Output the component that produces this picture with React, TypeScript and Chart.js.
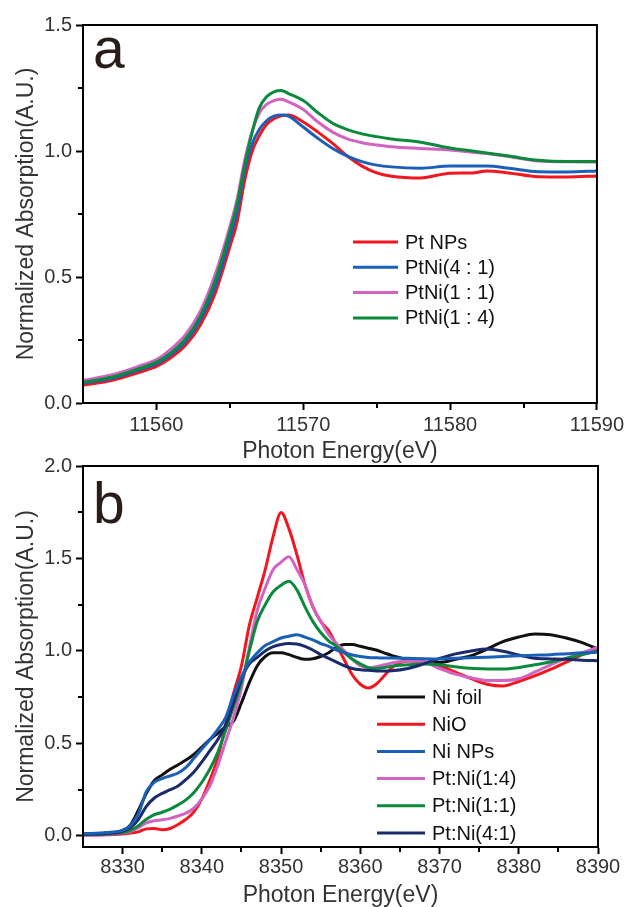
import React, { useEffect, useRef } from 'react';
import { Chart, registerables } from 'chart.js';

Chart.register(...registerables);

const FONT = "'Liberation Sans', Arial, Helvetica, sans-serif";

// ---------- Panel a (Pt L3 edge) ----------
const energyA = [11555, 11557, 11559, 11560, 11561, 11562, 11563, 11564, 11565, 11565.5, 11566, 11566.5, 11567, 11567.5, 11568, 11568.5, 11569, 11570, 11571, 11572, 11573, 11574, 11575, 11576, 11578, 11580, 11581.5, 11582.5, 11584, 11586, 11588, 11590];
const ptNPs = [0.070, 0.090, 0.125, 0.145, 0.180, 0.230, 0.310, 0.435, 0.620, 0.720, 0.880, 0.995, 1.060, 1.105, 1.128, 1.140, 1.143, 1.115, 1.075, 1.030, 0.980, 0.940, 0.913, 0.900, 0.893, 0.912, 0.913, 0.921, 0.913, 0.898, 0.897, 0.901];
const ptNi41 = [0.078, 0.098, 0.135, 0.155, 0.192, 0.245, 0.330, 0.460, 0.650, 0.760, 0.920, 1.025, 1.085, 1.120, 1.138, 1.143, 1.138, 1.095, 1.050, 1.010, 0.980, 0.958, 0.944, 0.937, 0.932, 0.940, 0.940, 0.940, 0.932, 0.918, 0.917, 0.921];
const ptNi11 = [0.090, 0.112, 0.150, 0.172, 0.215, 0.272, 0.365, 0.510, 0.700, 0.810, 0.960, 1.075, 1.150, 1.185, 1.200, 1.205, 1.195, 1.165, 1.115, 1.075, 1.048, 1.033, 1.024, 1.017, 1.010, 1.004, 0.995, 0.990, 0.978, 0.960, 0.957, 0.956];
const ptNi14 = [0.082, 0.103, 0.140, 0.162, 0.200, 0.255, 0.345, 0.485, 0.680, 0.790, 0.940, 1.070, 1.170, 1.215, 1.235, 1.240, 1.228, 1.200, 1.152, 1.110, 1.085, 1.068, 1.057, 1.048, 1.035, 1.012, 1.000, 0.992, 0.980, 0.963, 0.958, 0.958];
const labelsA = ['Pt NPs', 'PtNi(4 : 1)', 'PtNi(1 : 1)', 'PtNi(1 : 4)'];
const xTicksA = [11560, 11570, 11580, 11590];
const xMinorA = [11565, 11575, 11585];
const yTicksA = [0, 0.5, 1.0, 1.5];
const yMinorA = [0.25, 0.75, 1.25];

// ---------- Panel b (Ni K edge) ----------
const energyB = [8325, 8328, 8330, 8331, 8332, 8333, 8334, 8335, 8336, 8337, 8338, 8339, 8340, 8341, 8342, 8343, 8344, 8345, 8346, 8347, 8348, 8349, 8350, 8351, 8352, 8353, 8354, 8355, 8356, 8357, 8358, 8359, 8360, 8361, 8362, 8363, 8364, 8366, 8368, 8370, 8372, 8374, 8376, 8378, 8380, 8382, 8384, 8386, 8388, 8390];
const niFoil = [0.010, 0.015, 0.030, 0.060, 0.140, 0.230, 0.300, 0.330, 0.360, 0.385, 0.410, 0.440, 0.480, 0.520, 0.555, 0.590, 0.620, 0.720, 0.830, 0.920, 0.970, 0.990, 0.990, 0.980, 0.965, 0.955, 0.958, 0.970, 0.990, 1.020, 1.035, 1.035, 1.025, 1.015, 1.005, 0.990, 0.975, 0.955, 0.940, 0.938, 0.955, 0.975, 1.010, 1.050, 1.075, 1.092, 1.088, 1.070, 1.045, 1.010];
const niO = [0.005, 0.006, 0.010, 0.015, 0.022, 0.038, 0.040, 0.033, 0.040, 0.062, 0.090, 0.130, 0.200, 0.300, 0.420, 0.600, 0.770, 0.920, 1.140, 1.290, 1.440, 1.620, 1.748, 1.660, 1.520, 1.360, 1.240, 1.160, 1.110, 1.030, 0.950, 0.870, 0.820, 0.800, 0.820, 0.865, 0.910, 0.945, 0.940, 0.920, 0.885, 0.850, 0.820, 0.810, 0.835, 0.865, 0.900, 0.940, 0.980, 1.015];
const niNPs = [0.012, 0.018, 0.030, 0.055, 0.120, 0.240, 0.290, 0.310, 0.325, 0.340, 0.370, 0.420, 0.470, 0.520, 0.575, 0.640, 0.760, 0.860, 0.940, 0.990, 1.030, 1.050, 1.070, 1.080, 1.087, 1.075, 1.060, 1.040, 1.025, 1.005, 0.990, 0.978, 0.970, 0.965, 0.963, 0.962, 0.962, 0.960, 0.958, 0.957, 0.960, 0.963, 0.966, 0.970, 0.974, 0.977, 0.980, 0.985, 0.990, 0.993];
const ptNiB14 = [0.005, 0.008, 0.015, 0.025, 0.045, 0.070, 0.082, 0.087, 0.095, 0.108, 0.123, 0.150, 0.200, 0.270, 0.380, 0.510, 0.640, 0.800, 1.020, 1.220, 1.340, 1.440, 1.480, 1.510, 1.440, 1.360, 1.240, 1.160, 1.090, 1.040, 1.000, 0.955, 0.920, 0.910, 0.915, 0.925, 0.935, 0.945, 0.940, 0.905, 0.875, 0.855, 0.840, 0.840, 0.850, 0.885, 0.925, 0.960, 0.990, 1.020];
const ptNiB11 = [0.006, 0.010, 0.018, 0.030, 0.055, 0.090, 0.115, 0.128, 0.145, 0.168, 0.195, 0.235, 0.290, 0.360, 0.450, 0.570, 0.700, 0.830, 1.000, 1.160, 1.250, 1.320, 1.355, 1.377, 1.330, 1.240, 1.160, 1.100, 1.055, 1.025, 0.990, 0.955, 0.930, 0.910, 0.905, 0.910, 0.918, 0.925, 0.930, 0.925, 0.915, 0.906, 0.903, 0.902, 0.910, 0.925, 0.940, 0.960, 0.980, 1.000];
const ptNiB41 = [0.008, 0.013, 0.025, 0.045, 0.090, 0.160, 0.205, 0.230, 0.250, 0.270, 0.305, 0.345, 0.400, 0.460, 0.520, 0.600, 0.720, 0.850, 0.930, 0.965, 1.000, 1.023, 1.035, 1.040, 1.038, 1.025, 1.005, 0.980, 0.960, 0.940, 0.920, 0.905, 0.898, 0.895, 0.892, 0.892, 0.893, 0.905, 0.930, 0.960, 0.984, 1.000, 1.010, 0.998, 0.978, 0.960, 0.957, 0.955, 0.950, 0.947];
const labelsB = ['Ni foil', 'NiO', 'Ni NPs', 'Pt:Ni(1:4)', 'Pt:Ni(1:1)', 'Pt:Ni(4:1)'];
const xTicksB = [8330, 8340, 8350, 8360, 8370, 8380, 8390];
const xMinorB = [8335, 8345, 8355, 8365, 8375, 8385];
const yTicksB = [0, 0.5, 1.0, 1.5, 2.0];
const yMinorB = [0.25, 0.75, 1.25, 1.75];

const RED = '#f2161f';
const BLUE = '#1a5fb8';
const PINK = '#d263c0';
const GREEN = '#0b8a3d';
const BLACK = '#111111';
const NAVY = '#1b2a6a';

const decorPlugin = {
  id: 'panelDecor',
  afterDraw(chart: any, _args: any, opts: any) {
    const ctx = chart.ctx;
    const { left, top, right, bottom } = chart.chartArea;
    const xs = chart.scales.x;
    const ys = chart.scales.y;
    ctx.save();
    // frame
    ctx.strokeStyle = '#000';
    ctx.lineWidth = 2;
    ctx.strokeRect(left, top, right - left, bottom - top);
    // minor ticks
    ctx.beginPath();
    (opts.xMinor || []).forEach((v: number) => {
      const p = Math.round(xs.getPixelForValue(v));
      ctx.moveTo(p, bottom);
      ctx.lineTo(p, bottom + 5);
    });
    (opts.yMinor || []).forEach((v: number) => {
      const p = Math.round(ys.getPixelForValue(v));
      ctx.moveTo(left, p);
      ctx.lineTo(left - 5, p);
    });
    ctx.stroke();
    // panel letter
    ctx.fillStyle = '#2a1d17';
    ctx.font = `57px ${FONT}`;
    ctx.textBaseline = 'alphabetic';
    ctx.textAlign = 'left';
    ctx.fillText(opts.letter, opts.letterX, opts.letterY);
    // legend
    ctx.font = `20px ${FONT}`;
    ctx.textBaseline = 'middle';
    (opts.items || []).forEach((it: any, i: number) => {
      const y = opts.legY + i * opts.legGap;
      ctx.strokeStyle = it.color;
      ctx.lineWidth = 3;
      ctx.beginPath();
      ctx.moveTo(opts.lineX1, y);
      ctx.lineTo(opts.lineX2, y);
      ctx.stroke();
      ctx.fillStyle = '#111';
      ctx.fillText(it.label, opts.textX, y + 1);
    });
    ctx.restore();
  },
};

function makeSeries(xs: number[], ys: number[]) {
  return xs.map((x, i) => ({ x, y: ys[i] }));
}

function baseScales(p: any) {
  return {
    x: {
      type: 'linear',
      min: p.xMin,
      max: p.xMax,
      afterBuildTicks: (s: any) => {
        s.ticks = p.xTicks.map((v: number) => ({ value: v }));
      },
      afterFit: (s: any) => {
        s.height = p.xHeight;
      },
      ticks: {
        callback: (v: any) => String(v),
        font: { size: 20, family: FONT },
        color: '#333',
        padding: p.xTickPad,
        maxRotation: 0,
        autoSkip: false,
      },
      grid: { display: true, drawOnChartArea: false, drawTicks: true, tickLength: 7, tickWidth: 2, tickColor: '#000' },
      border: { display: true, color: '#000', width: 2 },
      title: {
        display: true,
        text: 'Photon Energy(eV)',
        font: { size: 23, family: FONT, lineHeight: 1 },
        color: '#333',
        padding: { top: 0, bottom: p.xTitlePad },
      },
    },
    y: {
      type: 'linear',
      min: p.yMin,
      max: p.yMax,
      afterBuildTicks: (s: any) => {
        s.ticks = p.yTicks.map((v: number) => ({ value: v }));
      },
      afterFit: (s: any) => {
        s.width = 83;
      },
      ticks: {
        callback: (v: any) => Number(v).toFixed(1),
        font: { size: 20, family: FONT },
        color: '#333',
        padding: 4,
        autoSkip: false,
      },
      grid: { display: true, drawOnChartArea: false, drawTicks: true, tickLength: 7, tickWidth: 2, tickColor: '#000' },
      border: { display: true, color: '#000', width: 2 },
      title: {
        display: true,
        text: 'Normalized Absorption(A.U.)',
        font: { size: 23, family: FONT, lineHeight: 1 },
        color: '#333',
        padding: { top: 15, bottom: 0 },
      },
    },
  };
}

function ds(label: string, xs: number[], ys: number[], color: string, order: number) {
  return {
    label,
    data: makeSeries(xs, ys),
    borderColor: color,
    backgroundColor: color,
    borderWidth: 3,
    pointRadius: 0,
    fill: false,
    cubicInterpolationMode: 'monotone',
    order,
  };
}

export default function App() {
  const refA = useRef<HTMLCanvasElement>(null);
  const refB = useRef<HTMLCanvasElement>(null);

  useEffect(() => {
    Chart.defaults.font.family = FONT;
    const chartA = new Chart(refA.current as HTMLCanvasElement, {
      type: 'line',
      data: {
        datasets: [
          ds(labelsA[0], energyA, ptNPs, RED, 4),
          ds(labelsA[1], energyA, ptNi41, BLUE, 3),
          ds(labelsA[2], energyA, ptNi11, PINK, 2),
          ds(labelsA[3], energyA, ptNi14, GREEN, 1),
        ] as any,
      },
      options: {
        animation: false,
        responsive: false,
        layout: { padding: { top: 25, right: 29, left: 0, bottom: 0 } },
        scales: baseScales({
          xMin: 11555, xMax: 11590, xTicks: xTicksA, xHeight: 67, xTickPad: 3, xTitlePad: 7,
          yMin: 0, yMax: 1.5, yTicks: yTicksA,
        }) as any,
        plugins: {
          legend: { display: false },
          tooltip: { enabled: false },
          panelDecor: {
            letter: 'a', letterX: 93, letterY: 68,
            xMinor: xMinorA, yMinor: yMinorA,
            items: [
              { label: labelsA[0], color: RED },
              { label: labelsA[1], color: BLUE },
              { label: labelsA[2], color: PINK },
              { label: labelsA[3], color: GREEN },
            ],
            legY: 242, legGap: 25.3, lineX1: 353, lineX2: 398, textX: 405,
          },
        } as any,
      },
      plugins: [decorPlugin],
    });

    const chartB = new Chart(refB.current as HTMLCanvasElement, {
      type: 'line',
      data: {
        datasets: [
          ds(labelsB[0], energyB, niFoil, BLACK, 6),
          ds(labelsB[1], energyB, niO, RED, 5),
          ds(labelsB[2], energyB, niNPs, BLUE, 1),
          ds(labelsB[3], energyB, ptNiB14, PINK, 4),
          ds(labelsB[4], energyB, ptNiB11, GREEN, 3),
          ds(labelsB[5], energyB, ptNiB41, NAVY, 2),
        ] as any,
      },
      options: {
        animation: false,
        responsive: false,
        layout: { padding: { top: 26, right: 29, left: 0, bottom: 0 } },
        scales: baseScales({
          xMin: 8325, xMax: 8390, xTicks: xTicksB, xHeight: 60, xTickPad: 1, xTitlePad: 0,
          yMin: -0.06, yMax: 2.0, yTicks: yTicksB,
        }) as any,
        plugins: {
          legend: { display: false },
          tooltip: { enabled: false },
          panelDecor: {
            letter: 'b', letterX: 93, letterY: 83,
            xMinor: xMinorB, yMinor: yMinorB,
            items: [
              { label: labelsB[0], color: BLACK },
              { label: labelsB[1], color: RED },
              { label: labelsB[2], color: BLUE },
              { label: labelsB[3], color: PINK },
              { label: labelsB[4], color: GREEN },
              { label: labelsB[5], color: NAVY },
            ],
            legY: 257, legGap: 27.2, lineX1: 377, lineX2: 425, textX: 432,
          },
        } as any,
      },
      plugins: [decorPlugin],
    });

    return () => {
      chartA.destroy();
      chartB.destroy();
    };
  }, []);

  return (
    <div style={{ position: 'absolute', left: 0, top: 0, width: 627, height: 907, background: '#fff' }}>
      <canvas ref={refA} width={627} height={470} style={{ position: 'absolute', left: 0, top: 0, display: 'block' }} />
      <canvas ref={refB} width={627} height={467} style={{ position: 'absolute', left: 0, top: 440, display: 'block' }} />
    </div>
  );
}
